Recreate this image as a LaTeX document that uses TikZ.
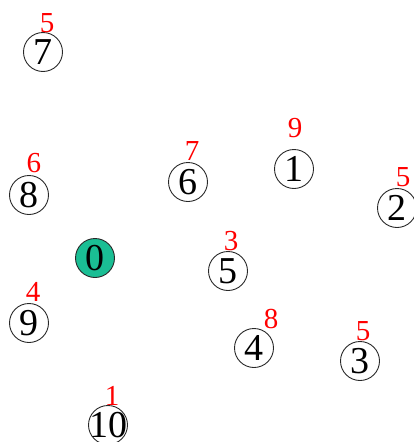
\documentclass[tikz,border=0pt]{standalone}
\usepackage{fontspec}
\setmainfont{Liberation Serif}
\definecolor{nodegreen}{RGB}{26,190,148}
\definecolor{ringgray}{RGB}{40,40,40}
\tikzset{
  vert/.style={circle, draw=ringgray, line width=0.9pt, minimum size=39pt, inner sep=0pt,
    text depth=0pt, font=\fontsize{38}{38}\selectfont, text=black},
  start/.style={vert, fill=nodegreen},
  weight/.style={inner sep=0pt, text=red, text depth=0pt, font=\fontsize{29}{29}\selectfont}
}
\begin{document}
\begin{tikzpicture}[x=1pt,y=-1pt]
\useasboundingbox (0,0) rectangle (414,442);
\node[start] (n0) at (95,258) {\makebox[0pt]{0}};
\node[vert] (n1) at (294,169) {\makebox[0pt]{1}};
\node[vert] (n2) at (397,208) {\makebox[0pt]{2}};
\node[vert] (n3) at (360,361) {\makebox[0pt]{3}};
\node[vert] (n4) at (254,348) {\makebox[0pt]{4}};
\node[vert] (n5) at (228,271) {\makebox[0pt]{5}};
\node[vert] (n6) at (188,182) {\makebox[0pt]{6}};
\node[vert] (n7) at (43,52) {\makebox[0pt]{7}};
\node[vert] (n8) at (29,195) {\makebox[0pt]{8}};
\node[vert] (n9) at (29,323) {\makebox[0pt]{9}};
\node[vert] (n10) at (108,425) {\makebox[0pt]{10}};
\node[weight] (l1) at (295,128) {9};
\node[weight] (l2) at (403,177) {5};
\node[weight] (l3) at (363,331) {5};
\node[weight] (l4) at (271,319) {8};
\node[weight] (l5) at (231,241) {3};
\node[weight] (l6) at (192,151) {7};
\node[weight] (l7) at (47,23) {5};
\node[weight] (l8) at (34,163) {6};
\node[weight] (l9) at (33,292) {4};
\node[weight] (l10) at (112,396) {1};
\end{tikzpicture}
\end{document}
